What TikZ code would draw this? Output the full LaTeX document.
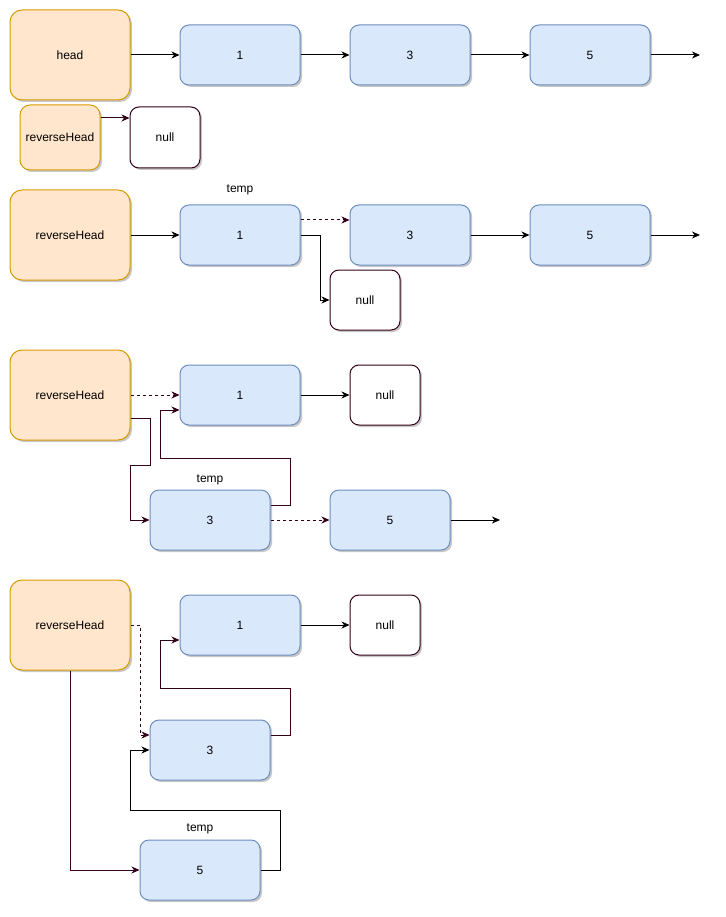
\documentclass[tikz,border=0pt]{standalone}
\usepackage{fontspec}
\setmainfont{Liberation Sans}
\usetikzlibrary{positioning, arrows.meta, shadows}
\definecolor{headfill}{HTML}{FFE6CC}
\definecolor{headline}{HTML}{D79B00}
\definecolor{listfill}{HTML}{DAE8FC}
\definecolor{listline}{HTML}{6C8EBF}
\definecolor{nullline}{HTML}{33001A}

\tikzset{
    boxshadow/.style={drop shadow={shadow xshift=2pt, shadow yshift=-2pt, opacity=0.22, fill=black}},
    headbox/.style={draw=headline, fill=headfill, rounded corners=12pt, minimum width=120pt, minimum height=90pt, inner sep=0pt, boxshadow},
    listbox/.style={draw=listline, fill=listfill, rounded corners=9pt, minimum width=120pt, minimum height=60pt, inner sep=0pt, boxshadow},
    nullbox/.style={draw=nullline, fill=white, rounded corners=9pt, minimum width=70pt, minimum height=60pt, inner sep=0pt, boxshadow},
    tag/.style={inner sep=1pt},
    arr/.style={-{Stealth[length=8pt, width=7pt, inset=2.5pt]}, black},
    marr/.style={-{Stealth[length=8pt, width=7pt, inset=2.5pt]}, nullline},
    dotted link/.style={dash pattern=on 3pt off 3pt}
}

\begin{document}
\begin{tikzpicture}[x=1pt, y=-1pt, line width=1pt, font=\fontsize{12pt}{14pt}\selectfont]
    \useasboundingbox (0,0) rectangle (725,917);

    % Step 1: the list and an empty reverseHead
    \node[headbox] (h1) at (70,55) {head};
    \foreach \v/\x in {1/240, 3/410, 5/590}
        \node[listbox] (a\v) at (\x,55) {\v};
    \coordinate (a-end) at (700,55);
    \draw[arr] (h1) -- (a1);
    \draw[arr] (a1) -- (a3);
    \draw[arr] (a3) -- (a5);
    \draw[arr] (a5) -- (a-end);

    \node[headbox, rounded corners=10pt, minimum width=80pt, minimum height=65pt] (r1) at (60,137.5) {reverseHead};
    \node[nullbox, minimum height=61pt] (n1) at (165,137.5) {null};
    \draw[marr] ([yshift=19.5pt]r1.east) -- ([yshift=19.5pt]n1.west);

    % Step 2: first node moved
    \node[headbox] (r2) at (70,235) {reverseHead};
    \foreach \v/\x in {1/240, 3/410, 5/590}
        \node[listbox] (b\v) at (\x,235) {\v};
    \node[tag] (t2) at (240,190) {temp};
    \node[nullbox] (n2) at (365,300) {null};
    \coordinate (b-end) at (700,235);
    \draw[arr] (r2) -- (b1);
    \draw[marr, dotted link] ([yshift=15pt]b1.east) -- ([yshift=15pt]b3.west);
    \draw[arr] (b1.east) -- ++(20,0) |- (n2.west);
    \draw[arr] (b3) -- (b5);
    \draw[arr] (b5) -- (b-end);

    % Step 3: second node moved
    \node[headbox] (r3) at (70,395) {reverseHead};
    \node[listbox] (c1) at (240,395) {1};
    \node[nullbox] (n3) at (385,395) {null};
    \node[listbox] (c3) at (210,520) {3};
    \node[listbox] (c5) at (390,520) {5};
    \node[tag] (t3) at (210,480) {temp};
    \coordinate (c-end) at (500,520);
    \draw[marr, dotted link] (r3) -- (c1);
    \draw[arr] (c1) -- (n3);
    \draw[marr, dotted link] (c3) -- (c5);
    \draw[arr] (c5) -- (c-end);
    \draw[marr] ([yshift=-23pt]r3.east) -| (150,465) -| (130,520) -- (c3.west);
    \draw[marr] ([yshift=15pt]c3.east) -| (290,458) -| (160,410) -- ([yshift=-15pt]c1.west);

    % Step 4: third node moved
    \node[headbox] (r4) at (70,625) {reverseHead};
    \node[listbox] (d1) at (240,625) {1};
    \node[nullbox] (n4) at (385,625) {null};
    \node[listbox] (d3) at (210,750) {3};
    \node[listbox] (d5) at (200,870) {5};
    \node[tag] (t4) at (200,829) {temp};
    \draw[arr] (d1) -- (n4);
    \draw[marr, dotted link] (r4.east) -| (140,735) -- ([yshift=15pt]d3.west);
    \draw[marr] ([yshift=15pt]d3.east) -| (290,688) -| (160,640) -- ([yshift=-15pt]d1.west);
    \draw[marr] (r4.south) |- (d5.west);
    \draw[arr] (d5.east) -| (280,810) -| (130,750) -- (d3.west);
\end{tikzpicture}
\end{document}
